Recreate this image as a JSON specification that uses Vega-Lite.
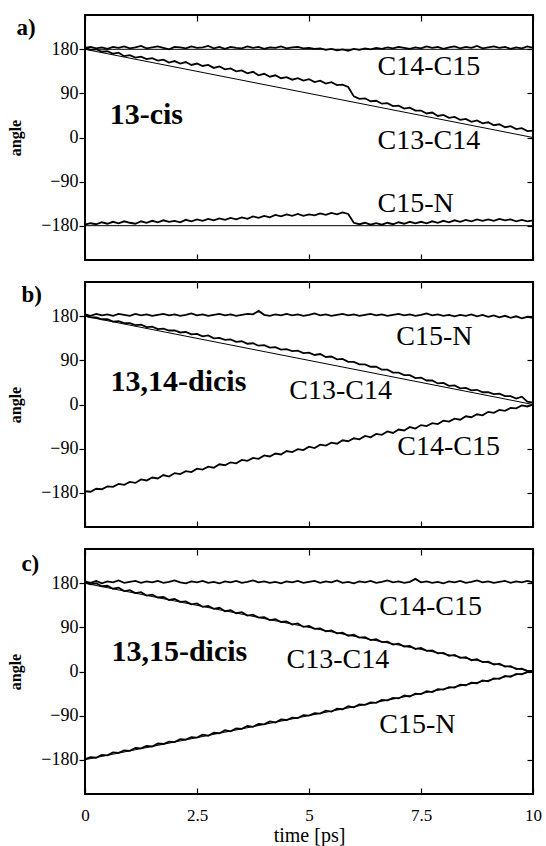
{
"$schema":"https://vega.github.io/schema/vega-lite/v6.json",
"background":"white",
"padding":{"left":6,"top":13,"right":10,"bottom":2},
"spacing":18,
"config":{"font":"'Liberation Serif', 'Times New Roman', serif","view":{"stroke":"black","strokeWidth":2},"axis":{"grid":false,"domain":false,"tickColor":"black","tickWidth":1.2,"labelColor":"black","titleColor":"black","labelFont":"'Liberation Serif', 'Times New Roman', serif","titleFont":"'Liberation Serif', 'Times New Roman', serif"}},
"datasets":{
"a":[
{"s":"C14-C15","t":0,"v":183},{"s":"C14-C15","t":0.125,"v":185},{"s":"C14-C15","t":0.25,"v":182},{"s":"C14-C15","t":0.375,"v":184},{"s":"C14-C15","t":0.5,"v":181},{"s":"C14-C15","t":0.625,"v":185},{"s":"C14-C15","t":0.75,"v":183},{"s":"C14-C15","t":0.875,"v":186},
{"s":"C14-C15","t":1,"v":182},{"s":"C14-C15","t":1.125,"v":184},{"s":"C14-C15","t":1.25,"v":187},{"s":"C14-C15","t":1.375,"v":182},{"s":"C14-C15","t":1.5,"v":184},{"s":"C14-C15","t":1.625,"v":186},{"s":"C14-C15","t":1.75,"v":183},{"s":"C14-C15","t":1.875,"v":180},
{"s":"C14-C15","t":2,"v":185},{"s":"C14-C15","t":2.125,"v":184},{"s":"C14-C15","t":2.25,"v":182},{"s":"C14-C15","t":2.375,"v":186},{"s":"C14-C15","t":2.5,"v":183},{"s":"C14-C15","t":2.625,"v":184},{"s":"C14-C15","t":2.75,"v":187},{"s":"C14-C15","t":2.875,"v":182},
{"s":"C14-C15","t":3,"v":185},{"s":"C14-C15","t":3.125,"v":181},{"s":"C14-C15","t":3.25,"v":185},{"s":"C14-C15","t":3.375,"v":183},{"s":"C14-C15","t":3.5,"v":182},{"s":"C14-C15","t":3.625,"v":186},{"s":"C14-C15","t":3.75,"v":183},{"s":"C14-C15","t":3.875,"v":185},
{"s":"C14-C15","t":4,"v":181},{"s":"C14-C15","t":4.125,"v":184},{"s":"C14-C15","t":4.25,"v":183},{"s":"C14-C15","t":4.375,"v":186},{"s":"C14-C15","t":4.5,"v":182},{"s":"C14-C15","t":4.625,"v":184},{"s":"C14-C15","t":4.75,"v":185},{"s":"C14-C15","t":4.875,"v":182},
{"s":"C14-C15","t":5,"v":183},{"s":"C14-C15","t":5.125,"v":181},{"s":"C14-C15","t":5.25,"v":182},{"s":"C14-C15","t":5.375,"v":179},{"s":"C14-C15","t":5.5,"v":181},{"s":"C14-C15","t":5.625,"v":178},{"s":"C14-C15","t":5.75,"v":180},{"s":"C14-C15","t":5.875,"v":177},
{"s":"C14-C15","t":6,"v":181},{"s":"C14-C15","t":6.125,"v":179},{"s":"C14-C15","t":6.25,"v":182},{"s":"C14-C15","t":6.375,"v":180},{"s":"C14-C15","t":6.5,"v":183},{"s":"C14-C15","t":6.625,"v":181},{"s":"C14-C15","t":6.75,"v":184},{"s":"C14-C15","t":6.875,"v":182},
{"s":"C14-C15","t":7,"v":185},{"s":"C14-C15","t":7.125,"v":183},{"s":"C14-C15","t":7.25,"v":181},{"s":"C14-C15","t":7.375,"v":184},{"s":"C14-C15","t":7.5,"v":182},{"s":"C14-C15","t":7.625,"v":186},{"s":"C14-C15","t":7.75,"v":183},{"s":"C14-C15","t":7.875,"v":185},
{"s":"C14-C15","t":8,"v":181},{"s":"C14-C15","t":8.125,"v":184},{"s":"C14-C15","t":8.25,"v":186},{"s":"C14-C15","t":8.375,"v":182},{"s":"C14-C15","t":8.5,"v":185},{"s":"C14-C15","t":8.625,"v":183},{"s":"C14-C15","t":8.75,"v":187},{"s":"C14-C15","t":8.875,"v":182},
{"s":"C14-C15","t":9,"v":184},{"s":"C14-C15","t":9.125,"v":186},{"s":"C14-C15","t":9.25,"v":183},{"s":"C14-C15","t":9.375,"v":185},{"s":"C14-C15","t":9.5,"v":181},{"s":"C14-C15","t":9.625,"v":184},{"s":"C14-C15","t":9.75,"v":182},{"s":"C14-C15","t":9.875,"v":186},
{"s":"C14-C15","t":10,"v":183},
{"s":"C13-C14","t":0,"v":183},{"s":"C13-C14","t":0.125,"v":179},{"s":"C13-C14","t":0.25,"v":180},{"s":"C13-C14","t":0.375,"v":175},{"s":"C13-C14","t":0.5,"v":176},{"s":"C13-C14","t":0.625,"v":171},{"s":"C13-C14","t":0.75,"v":173},{"s":"C13-C14","t":0.875,"v":166},
{"s":"C13-C14","t":1,"v":168},{"s":"C13-C14","t":1.125,"v":163},{"s":"C13-C14","t":1.25,"v":165},{"s":"C13-C14","t":1.375,"v":160},{"s":"C13-C14","t":1.5,"v":162},{"s":"C13-C14","t":1.625,"v":157},{"s":"C13-C14","t":1.75,"v":159},{"s":"C13-C14","t":1.875,"v":153},
{"s":"C13-C14","t":2,"v":156},{"s":"C13-C14","t":2.125,"v":151},{"s":"C13-C14","t":2.25,"v":154},{"s":"C13-C14","t":2.375,"v":148},{"s":"C13-C14","t":2.5,"v":151},{"s":"C13-C14","t":2.625,"v":146},{"s":"C13-C14","t":2.75,"v":148},{"s":"C13-C14","t":2.875,"v":142},
{"s":"C13-C14","t":3,"v":145},{"s":"C13-C14","t":3.125,"v":139},{"s":"C13-C14","t":3.25,"v":141},{"s":"C13-C14","t":3.375,"v":135},{"s":"C13-C14","t":3.5,"v":137},{"s":"C13-C14","t":3.625,"v":131},{"s":"C13-C14","t":3.75,"v":134},{"s":"C13-C14","t":3.875,"v":127},
{"s":"C13-C14","t":4,"v":130},{"s":"C13-C14","t":4.125,"v":124},{"s":"C13-C14","t":4.25,"v":127},{"s":"C13-C14","t":4.375,"v":121},{"s":"C13-C14","t":4.5,"v":123},{"s":"C13-C14","t":4.625,"v":118},{"s":"C13-C14","t":4.75,"v":121},{"s":"C13-C14","t":4.875,"v":116},
{"s":"C13-C14","t":5,"v":119},{"s":"C13-C14","t":5.125,"v":113},{"s":"C13-C14","t":5.25,"v":116},{"s":"C13-C14","t":5.375,"v":110},{"s":"C13-C14","t":5.5,"v":113},{"s":"C13-C14","t":5.625,"v":107},{"s":"C13-C14","t":5.75,"v":108},{"s":"C13-C14","t":5.875,"v":103},
{"s":"C13-C14","t":6,"v":84},{"s":"C13-C14","t":6.125,"v":79},{"s":"C13-C14","t":6.25,"v":80},{"s":"C13-C14","t":6.375,"v":74},{"s":"C13-C14","t":6.5,"v":75},{"s":"C13-C14","t":6.625,"v":69},{"s":"C13-C14","t":6.75,"v":70},{"s":"C13-C14","t":6.875,"v":64},
{"s":"C13-C14","t":7,"v":65},{"s":"C13-C14","t":7.125,"v":59},{"s":"C13-C14","t":7.25,"v":61},{"s":"C13-C14","t":7.375,"v":55},{"s":"C13-C14","t":7.5,"v":55},{"s":"C13-C14","t":7.625,"v":49},{"s":"C13-C14","t":7.75,"v":51},{"s":"C13-C14","t":7.875,"v":44},
{"s":"C13-C14","t":8,"v":46},{"s":"C13-C14","t":8.125,"v":40},{"s":"C13-C14","t":8.25,"v":42},{"s":"C13-C14","t":8.375,"v":36},{"s":"C13-C14","t":8.5,"v":38},{"s":"C13-C14","t":8.625,"v":32},{"s":"C13-C14","t":8.75,"v":35},{"s":"C13-C14","t":8.875,"v":29},
{"s":"C13-C14","t":9,"v":31},{"s":"C13-C14","t":9.125,"v":25},{"s":"C13-C14","t":9.25,"v":27},{"s":"C13-C14","t":9.375,"v":21},{"s":"C13-C14","t":9.5,"v":23},{"s":"C13-C14","t":9.625,"v":17},{"s":"C13-C14","t":9.75,"v":19},{"s":"C13-C14","t":9.875,"v":13},
{"s":"C13-C14","t":10,"v":14},
{"s":"C15-N","t":0,"v":-178},{"s":"C15-N","t":0.125,"v":-175},{"s":"C15-N","t":0.25,"v":-177},{"s":"C15-N","t":0.375,"v":-173},{"s":"C15-N","t":0.5,"v":-176},{"s":"C15-N","t":0.625,"v":-172},{"s":"C15-N","t":0.75,"v":-175},{"s":"C15-N","t":0.875,"v":-171},
{"s":"C15-N","t":1,"v":-174},{"s":"C15-N","t":1.125,"v":-176},{"s":"C15-N","t":1.25,"v":-171},{"s":"C15-N","t":1.375,"v":-174},{"s":"C15-N","t":1.5,"v":-170},{"s":"C15-N","t":1.625,"v":-173},{"s":"C15-N","t":1.75,"v":-169},{"s":"C15-N","t":1.875,"v":-172},
{"s":"C15-N","t":2,"v":-170},{"s":"C15-N","t":2.125,"v":-173},{"s":"C15-N","t":2.25,"v":-168},{"s":"C15-N","t":2.375,"v":-171},{"s":"C15-N","t":2.5,"v":-167},{"s":"C15-N","t":2.625,"v":-170},{"s":"C15-N","t":2.75,"v":-166},{"s":"C15-N","t":2.875,"v":-169},
{"s":"C15-N","t":3,"v":-165},{"s":"C15-N","t":3.125,"v":-168},{"s":"C15-N","t":3.25,"v":-164},{"s":"C15-N","t":3.375,"v":-167},{"s":"C15-N","t":3.5,"v":-163},{"s":"C15-N","t":3.625,"v":-166},{"s":"C15-N","t":3.75,"v":-161},{"s":"C15-N","t":3.875,"v":-164},
{"s":"C15-N","t":4,"v":-160},{"s":"C15-N","t":4.125,"v":-163},{"s":"C15-N","t":4.25,"v":-158},{"s":"C15-N","t":4.375,"v":-161},{"s":"C15-N","t":4.5,"v":-157},{"s":"C15-N","t":4.625,"v":-160},{"s":"C15-N","t":4.75,"v":-156},{"s":"C15-N","t":4.875,"v":-160},
{"s":"C15-N","t":5,"v":-157},{"s":"C15-N","t":5.125,"v":-159},{"s":"C15-N","t":5.25,"v":-155},{"s":"C15-N","t":5.375,"v":-158},{"s":"C15-N","t":5.5,"v":-154},{"s":"C15-N","t":5.625,"v":-157},{"s":"C15-N","t":5.75,"v":-153},{"s":"C15-N","t":5.875,"v":-156},
{"s":"C15-N","t":6,"v":-174},{"s":"C15-N","t":6.125,"v":-177},{"s":"C15-N","t":6.25,"v":-174},{"s":"C15-N","t":6.375,"v":-178},{"s":"C15-N","t":6.5,"v":-175},{"s":"C15-N","t":6.625,"v":-178},{"s":"C15-N","t":6.75,"v":-174},{"s":"C15-N","t":6.875,"v":-177},
{"s":"C15-N","t":7,"v":-173},{"s":"C15-N","t":7.125,"v":-176},{"s":"C15-N","t":7.25,"v":-172},{"s":"C15-N","t":7.375,"v":-175},{"s":"C15-N","t":7.5,"v":-172},{"s":"C15-N","t":7.625,"v":-175},{"s":"C15-N","t":7.75,"v":-171},{"s":"C15-N","t":7.875,"v":-174},
{"s":"C15-N","t":8,"v":-170},{"s":"C15-N","t":8.125,"v":-173},{"s":"C15-N","t":8.25,"v":-169},{"s":"C15-N","t":8.375,"v":-172},{"s":"C15-N","t":8.5,"v":-168},{"s":"C15-N","t":8.625,"v":-171},{"s":"C15-N","t":8.75,"v":-167},{"s":"C15-N","t":8.875,"v":-170},
{"s":"C15-N","t":9,"v":-167},{"s":"C15-N","t":9.125,"v":-170},{"s":"C15-N","t":9.25,"v":-166},{"s":"C15-N","t":9.375,"v":-169},{"s":"C15-N","t":9.5,"v":-167},{"s":"C15-N","t":9.625,"v":-171},{"s":"C15-N","t":9.75,"v":-168},{"s":"C15-N","t":9.875,"v":-171},
{"s":"C15-N","t":10,"v":-169}
],
"b":[
{"s":"C15-N","t":0,"v":184},{"s":"C15-N","t":0.125,"v":181},{"s":"C15-N","t":0.25,"v":185},{"s":"C15-N","t":0.375,"v":182},{"s":"C15-N","t":0.5,"v":184},{"s":"C15-N","t":0.625,"v":181},{"s":"C15-N","t":0.75,"v":185},{"s":"C15-N","t":0.875,"v":183},
{"s":"C15-N","t":1,"v":181},{"s":"C15-N","t":1.125,"v":185},{"s":"C15-N","t":1.25,"v":182},{"s":"C15-N","t":1.375,"v":184},{"s":"C15-N","t":1.5,"v":181},{"s":"C15-N","t":1.625,"v":183},{"s":"C15-N","t":1.75,"v":185},{"s":"C15-N","t":1.875,"v":182},
{"s":"C15-N","t":2,"v":184},{"s":"C15-N","t":2.125,"v":181},{"s":"C15-N","t":2.25,"v":183},{"s":"C15-N","t":2.375,"v":186},{"s":"C15-N","t":2.5,"v":182},{"s":"C15-N","t":2.625,"v":184},{"s":"C15-N","t":2.75,"v":181},{"s":"C15-N","t":2.875,"v":183},
{"s":"C15-N","t":3,"v":185},{"s":"C15-N","t":3.125,"v":182},{"s":"C15-N","t":3.25,"v":184},{"s":"C15-N","t":3.375,"v":181},{"s":"C15-N","t":3.5,"v":183},{"s":"C15-N","t":3.625,"v":185},{"s":"C15-N","t":3.75,"v":184},{"s":"C15-N","t":3.875,"v":191},
{"s":"C15-N","t":4,"v":183},{"s":"C15-N","t":4.125,"v":181},{"s":"C15-N","t":4.25,"v":184},{"s":"C15-N","t":4.375,"v":182},{"s":"C15-N","t":4.5,"v":185},{"s":"C15-N","t":4.625,"v":182},{"s":"C15-N","t":4.75,"v":184},{"s":"C15-N","t":4.875,"v":181},
{"s":"C15-N","t":5,"v":183},{"s":"C15-N","t":5.125,"v":186},{"s":"C15-N","t":5.25,"v":182},{"s":"C15-N","t":5.375,"v":184},{"s":"C15-N","t":5.5,"v":181},{"s":"C15-N","t":5.625,"v":183},{"s":"C15-N","t":5.75,"v":185},{"s":"C15-N","t":5.875,"v":182},
{"s":"C15-N","t":6,"v":184},{"s":"C15-N","t":6.125,"v":181},{"s":"C15-N","t":6.25,"v":183},{"s":"C15-N","t":6.375,"v":185},{"s":"C15-N","t":6.5,"v":182},{"s":"C15-N","t":6.625,"v":184},{"s":"C15-N","t":6.75,"v":181},{"s":"C15-N","t":6.875,"v":183},
{"s":"C15-N","t":7,"v":185},{"s":"C15-N","t":7.125,"v":182},{"s":"C15-N","t":7.25,"v":184},{"s":"C15-N","t":7.375,"v":181},{"s":"C15-N","t":7.5,"v":183},{"s":"C15-N","t":7.625,"v":186},{"s":"C15-N","t":7.75,"v":182},{"s":"C15-N","t":7.875,"v":184},
{"s":"C15-N","t":8,"v":181},{"s":"C15-N","t":8.125,"v":183},{"s":"C15-N","t":8.25,"v":180},{"s":"C15-N","t":8.375,"v":183},{"s":"C15-N","t":8.5,"v":181},{"s":"C15-N","t":8.625,"v":184},{"s":"C15-N","t":8.75,"v":180},{"s":"C15-N","t":8.875,"v":183},
{"s":"C15-N","t":9,"v":179},{"s":"C15-N","t":9.125,"v":182},{"s":"C15-N","t":9.25,"v":178},{"s":"C15-N","t":9.375,"v":181},{"s":"C15-N","t":9.5,"v":177},{"s":"C15-N","t":9.625,"v":180},{"s":"C15-N","t":9.75,"v":176},{"s":"C15-N","t":9.875,"v":179},
{"s":"C15-N","t":10,"v":177},
{"s":"C13-C14","t":0,"v":182},{"s":"C13-C14","t":0.125,"v":178},{"s":"C13-C14","t":0.25,"v":178},{"s":"C13-C14","t":0.375,"v":174},{"s":"C13-C14","t":0.5,"v":174},{"s":"C13-C14","t":0.625,"v":169},{"s":"C13-C14","t":0.75,"v":170},{"s":"C13-C14","t":0.875,"v":166},
{"s":"C13-C14","t":1,"v":166},{"s":"C13-C14","t":1.125,"v":162},{"s":"C13-C14","t":1.25,"v":163},{"s":"C13-C14","t":1.375,"v":158},{"s":"C13-C14","t":1.5,"v":159},{"s":"C13-C14","t":1.625,"v":154},{"s":"C13-C14","t":1.75,"v":155},{"s":"C13-C14","t":1.875,"v":151},
{"s":"C13-C14","t":2,"v":151},{"s":"C13-C14","t":2.125,"v":147},{"s":"C13-C14","t":2.25,"v":148},{"s":"C13-C14","t":2.375,"v":143},{"s":"C13-C14","t":2.5,"v":144},{"s":"C13-C14","t":2.625,"v":139},{"s":"C13-C14","t":2.75,"v":141},{"s":"C13-C14","t":2.875,"v":135},
{"s":"C13-C14","t":3,"v":136},{"s":"C13-C14","t":3.125,"v":132},{"s":"C13-C14","t":3.25,"v":133},{"s":"C13-C14","t":3.375,"v":128},{"s":"C13-C14","t":3.5,"v":129},{"s":"C13-C14","t":3.625,"v":124},{"s":"C13-C14","t":3.75,"v":125},{"s":"C13-C14","t":3.875,"v":120},
{"s":"C13-C14","t":4,"v":121},{"s":"C13-C14","t":4.125,"v":116},{"s":"C13-C14","t":4.25,"v":117},{"s":"C13-C14","t":4.375,"v":112},{"s":"C13-C14","t":4.5,"v":113},{"s":"C13-C14","t":4.625,"v":109},{"s":"C13-C14","t":4.75,"v":110},{"s":"C13-C14","t":4.875,"v":105},
{"s":"C13-C14","t":5,"v":106},{"s":"C13-C14","t":5.125,"v":101},{"s":"C13-C14","t":5.25,"v":103},{"s":"C13-C14","t":5.375,"v":97},{"s":"C13-C14","t":5.5,"v":98},{"s":"C13-C14","t":5.625,"v":92},{"s":"C13-C14","t":5.75,"v":93},{"s":"C13-C14","t":5.875,"v":87},
{"s":"C13-C14","t":6,"v":87},{"s":"C13-C14","t":6.125,"v":82},{"s":"C13-C14","t":6.25,"v":82},{"s":"C13-C14","t":6.375,"v":77},{"s":"C13-C14","t":6.5,"v":77},{"s":"C13-C14","t":6.625,"v":71},{"s":"C13-C14","t":6.75,"v":71},{"s":"C13-C14","t":6.875,"v":65},
{"s":"C13-C14","t":7,"v":65},{"s":"C13-C14","t":7.125,"v":60},{"s":"C13-C14","t":7.25,"v":60},{"s":"C13-C14","t":7.375,"v":54},{"s":"C13-C14","t":7.5,"v":55},{"s":"C13-C14","t":7.625,"v":49},{"s":"C13-C14","t":7.75,"v":49},{"s":"C13-C14","t":7.875,"v":43},
{"s":"C13-C14","t":8,"v":44},{"s":"C13-C14","t":8.125,"v":38},{"s":"C13-C14","t":8.25,"v":39},{"s":"C13-C14","t":8.375,"v":33},{"s":"C13-C14","t":8.5,"v":34},{"s":"C13-C14","t":8.625,"v":29},{"s":"C13-C14","t":8.75,"v":30},{"s":"C13-C14","t":8.875,"v":25},
{"s":"C13-C14","t":9,"v":25},{"s":"C13-C14","t":9.125,"v":21},{"s":"C13-C14","t":9.25,"v":22},{"s":"C13-C14","t":9.375,"v":17},{"s":"C13-C14","t":9.5,"v":17},{"s":"C13-C14","t":9.625,"v":12},{"s":"C13-C14","t":9.75,"v":16},{"s":"C13-C14","t":9.875,"v":6},
{"s":"C13-C14","t":10,"v":4},
{"s":"C14-C15","t":0,"v":-177},{"s":"C14-C15","t":0.125,"v":-178},{"s":"C14-C15","t":0.25,"v":-172},{"s":"C14-C15","t":0.375,"v":-173},{"s":"C14-C15","t":0.5,"v":-167},{"s":"C14-C15","t":0.625,"v":-168},{"s":"C14-C15","t":0.75,"v":-162},{"s":"C14-C15","t":0.875,"v":-164},
{"s":"C14-C15","t":1,"v":-158},{"s":"C14-C15","t":1.125,"v":-160},{"s":"C14-C15","t":1.25,"v":-153},{"s":"C14-C15","t":1.375,"v":-155},{"s":"C14-C15","t":1.5,"v":-149},{"s":"C14-C15","t":1.625,"v":-151},{"s":"C14-C15","t":1.75,"v":-144},{"s":"C14-C15","t":1.875,"v":-147},
{"s":"C14-C15","t":2,"v":-140},{"s":"C14-C15","t":2.125,"v":-142},{"s":"C14-C15","t":2.25,"v":-136},{"s":"C14-C15","t":2.375,"v":-138},{"s":"C14-C15","t":2.5,"v":-131},{"s":"C14-C15","t":2.625,"v":-133},{"s":"C14-C15","t":2.75,"v":-127},{"s":"C14-C15","t":2.875,"v":-129},
{"s":"C14-C15","t":3,"v":-122},{"s":"C14-C15","t":3.125,"v":-124},{"s":"C14-C15","t":3.25,"v":-118},{"s":"C14-C15","t":3.375,"v":-120},{"s":"C14-C15","t":3.5,"v":-113},{"s":"C14-C15","t":3.625,"v":-115},{"s":"C14-C15","t":3.75,"v":-109},{"s":"C14-C15","t":3.875,"v":-111},
{"s":"C14-C15","t":4,"v":-104},{"s":"C14-C15","t":4.125,"v":-106},{"s":"C14-C15","t":4.25,"v":-100},{"s":"C14-C15","t":4.375,"v":-102},{"s":"C14-C15","t":4.5,"v":-95},{"s":"C14-C15","t":4.625,"v":-97},{"s":"C14-C15","t":4.75,"v":-91},{"s":"C14-C15","t":4.875,"v":-93},
{"s":"C14-C15","t":5,"v":-86},{"s":"C14-C15","t":5.125,"v":-89},{"s":"C14-C15","t":5.25,"v":-82},{"s":"C14-C15","t":5.375,"v":-84},{"s":"C14-C15","t":5.5,"v":-78},{"s":"C14-C15","t":5.625,"v":-80},{"s":"C14-C15","t":5.75,"v":-73},{"s":"C14-C15","t":5.875,"v":-75},
{"s":"C14-C15","t":6,"v":-69},{"s":"C14-C15","t":6.125,"v":-71},{"s":"C14-C15","t":6.25,"v":-64},{"s":"C14-C15","t":6.375,"v":-67},{"s":"C14-C15","t":6.5,"v":-60},{"s":"C14-C15","t":6.625,"v":-62},{"s":"C14-C15","t":6.75,"v":-55},{"s":"C14-C15","t":6.875,"v":-58},
{"s":"C14-C15","t":7,"v":-51},{"s":"C14-C15","t":7.125,"v":-53},{"s":"C14-C15","t":7.25,"v":-46},{"s":"C14-C15","t":7.375,"v":-49},{"s":"C14-C15","t":7.5,"v":-42},{"s":"C14-C15","t":7.625,"v":-44},{"s":"C14-C15","t":7.75,"v":-38},{"s":"C14-C15","t":7.875,"v":-40},
{"s":"C14-C15","t":8,"v":-33},{"s":"C14-C15","t":8.125,"v":-35},{"s":"C14-C15","t":8.25,"v":-29},{"s":"C14-C15","t":8.375,"v":-31},{"s":"C14-C15","t":8.5,"v":-24},{"s":"C14-C15","t":8.625,"v":-26},{"s":"C14-C15","t":8.75,"v":-20},{"s":"C14-C15","t":8.875,"v":-22},
{"s":"C14-C15","t":9,"v":-15},{"s":"C14-C15","t":9.125,"v":-17},{"s":"C14-C15","t":9.25,"v":-11},{"s":"C14-C15","t":9.375,"v":-13},{"s":"C14-C15","t":9.5,"v":-7},{"s":"C14-C15","t":9.625,"v":-8},{"s":"C14-C15","t":9.75,"v":-2},{"s":"C14-C15","t":9.875,"v":-4},
{"s":"C14-C15","t":10,"v":0}
],
"c":[
{"s":"C14-C15","t":0,"v":184},{"s":"C14-C15","t":0.125,"v":181},{"s":"C14-C15","t":0.25,"v":185},{"s":"C14-C15","t":0.375,"v":180},{"s":"C14-C15","t":0.5,"v":184},{"s":"C14-C15","t":0.625,"v":182},{"s":"C14-C15","t":0.75,"v":186},{"s":"C14-C15","t":0.875,"v":181},
{"s":"C14-C15","t":1,"v":183},{"s":"C14-C15","t":1.125,"v":185},{"s":"C14-C15","t":1.25,"v":181},{"s":"C14-C15","t":1.375,"v":184},{"s":"C14-C15","t":1.5,"v":182},{"s":"C14-C15","t":1.625,"v":185},{"s":"C14-C15","t":1.75,"v":181},{"s":"C14-C15","t":1.875,"v":183},
{"s":"C14-C15","t":2,"v":186},{"s":"C14-C15","t":2.125,"v":182},{"s":"C14-C15","t":2.25,"v":180},{"s":"C14-C15","t":2.375,"v":184},{"s":"C14-C15","t":2.5,"v":182},{"s":"C14-C15","t":2.625,"v":185},{"s":"C14-C15","t":2.75,"v":181},{"s":"C14-C15","t":2.875,"v":183},
{"s":"C14-C15","t":3,"v":180},{"s":"C14-C15","t":3.125,"v":184},{"s":"C14-C15","t":3.25,"v":182},{"s":"C14-C15","t":3.375,"v":185},{"s":"C14-C15","t":3.5,"v":181},{"s":"C14-C15","t":3.625,"v":183},{"s":"C14-C15","t":3.75,"v":186},{"s":"C14-C15","t":3.875,"v":182},
{"s":"C14-C15","t":4,"v":184},{"s":"C14-C15","t":4.125,"v":181},{"s":"C14-C15","t":4.25,"v":183},{"s":"C14-C15","t":4.375,"v":180},{"s":"C14-C15","t":4.5,"v":184},{"s":"C14-C15","t":4.625,"v":182},{"s":"C14-C15","t":4.75,"v":185},{"s":"C14-C15","t":4.875,"v":181},
{"s":"C14-C15","t":5,"v":183},{"s":"C14-C15","t":5.125,"v":185},{"s":"C14-C15","t":5.25,"v":181},{"s":"C14-C15","t":5.375,"v":184},{"s":"C14-C15","t":5.5,"v":182},{"s":"C14-C15","t":5.625,"v":186},{"s":"C14-C15","t":5.75,"v":181},{"s":"C14-C15","t":5.875,"v":183},
{"s":"C14-C15","t":6,"v":180},{"s":"C14-C15","t":6.125,"v":184},{"s":"C14-C15","t":6.25,"v":182},{"s":"C14-C15","t":6.375,"v":185},{"s":"C14-C15","t":6.5,"v":181},{"s":"C14-C15","t":6.625,"v":183},{"s":"C14-C15","t":6.75,"v":186},{"s":"C14-C15","t":6.875,"v":182},
{"s":"C14-C15","t":7,"v":184},{"s":"C14-C15","t":7.125,"v":181},{"s":"C14-C15","t":7.25,"v":183},{"s":"C14-C15","t":7.375,"v":189},{"s":"C14-C15","t":7.5,"v":182},{"s":"C14-C15","t":7.625,"v":184},{"s":"C14-C15","t":7.75,"v":181},{"s":"C14-C15","t":7.875,"v":183},
{"s":"C14-C15","t":8,"v":180},{"s":"C14-C15","t":8.125,"v":184},{"s":"C14-C15","t":8.25,"v":182},{"s":"C14-C15","t":8.375,"v":185},{"s":"C14-C15","t":8.5,"v":181},{"s":"C14-C15","t":8.625,"v":183},{"s":"C14-C15","t":8.75,"v":186},{"s":"C14-C15","t":8.875,"v":182},
{"s":"C14-C15","t":9,"v":184},{"s":"C14-C15","t":9.125,"v":181},{"s":"C14-C15","t":9.25,"v":183},{"s":"C14-C15","t":9.375,"v":185},{"s":"C14-C15","t":9.5,"v":181},{"s":"C14-C15","t":9.625,"v":184},{"s":"C14-C15","t":9.75,"v":182},{"s":"C14-C15","t":9.875,"v":185},
{"s":"C14-C15","t":10,"v":182},
{"s":"C13-C14","t":0,"v":183},{"s":"C13-C14","t":0.125,"v":178},{"s":"C13-C14","t":0.25,"v":180},{"s":"C13-C14","t":0.375,"v":174},{"s":"C13-C14","t":0.5,"v":175},{"s":"C13-C14","t":0.625,"v":169},{"s":"C13-C14","t":0.75,"v":171},{"s":"C13-C14","t":0.875,"v":164},
{"s":"C13-C14","t":1,"v":166},{"s":"C13-C14","t":1.125,"v":160},{"s":"C13-C14","t":1.25,"v":162},{"s":"C13-C14","t":1.375,"v":155},{"s":"C13-C14","t":1.5,"v":157},{"s":"C13-C14","t":1.625,"v":151},{"s":"C13-C14","t":1.75,"v":152},{"s":"C13-C14","t":1.875,"v":146},
{"s":"C13-C14","t":2,"v":148},{"s":"C13-C14","t":2.125,"v":142},{"s":"C13-C14","t":2.25,"v":143},{"s":"C13-C14","t":2.375,"v":137},{"s":"C13-C14","t":2.5,"v":139},{"s":"C13-C14","t":2.625,"v":132},{"s":"C13-C14","t":2.75,"v":134},{"s":"C13-C14","t":2.875,"v":128},
{"s":"C13-C14","t":3,"v":130},{"s":"C13-C14","t":3.125,"v":123},{"s":"C13-C14","t":3.25,"v":125},{"s":"C13-C14","t":3.375,"v":119},{"s":"C13-C14","t":3.5,"v":121},{"s":"C13-C14","t":3.625,"v":114},{"s":"C13-C14","t":3.75,"v":116},{"s":"C13-C14","t":3.875,"v":110},
{"s":"C13-C14","t":4,"v":111},{"s":"C13-C14","t":4.125,"v":105},{"s":"C13-C14","t":4.25,"v":107},{"s":"C13-C14","t":4.375,"v":101},{"s":"C13-C14","t":4.5,"v":102},{"s":"C13-C14","t":4.625,"v":96},{"s":"C13-C14","t":4.75,"v":98},{"s":"C13-C14","t":4.875,"v":91},
{"s":"C13-C14","t":5,"v":93},{"s":"C13-C14","t":5.125,"v":87},{"s":"C13-C14","t":5.25,"v":88},{"s":"C13-C14","t":5.375,"v":82},{"s":"C13-C14","t":5.5,"v":84},{"s":"C13-C14","t":5.625,"v":78},{"s":"C13-C14","t":5.75,"v":79},{"s":"C13-C14","t":5.875,"v":73},
{"s":"C13-C14","t":6,"v":75},{"s":"C13-C14","t":6.125,"v":69},{"s":"C13-C14","t":6.25,"v":70},{"s":"C13-C14","t":6.375,"v":64},{"s":"C13-C14","t":6.5,"v":66},{"s":"C13-C14","t":6.625,"v":60},{"s":"C13-C14","t":6.75,"v":61},{"s":"C13-C14","t":6.875,"v":55},
{"s":"C13-C14","t":7,"v":57},{"s":"C13-C14","t":7.125,"v":51},{"s":"C13-C14","t":7.25,"v":52},{"s":"C13-C14","t":7.375,"v":46},{"s":"C13-C14","t":7.5,"v":48},{"s":"C13-C14","t":7.625,"v":42},{"s":"C13-C14","t":7.75,"v":43},{"s":"C13-C14","t":7.875,"v":37},
{"s":"C13-C14","t":8,"v":38},{"s":"C13-C14","t":8.125,"v":32},{"s":"C13-C14","t":8.25,"v":34},{"s":"C13-C14","t":8.375,"v":28},{"s":"C13-C14","t":8.5,"v":29},{"s":"C13-C14","t":8.625,"v":23},{"s":"C13-C14","t":8.75,"v":25},{"s":"C13-C14","t":8.875,"v":19},
{"s":"C13-C14","t":9,"v":20},{"s":"C13-C14","t":9.125,"v":14},{"s":"C13-C14","t":9.25,"v":16},{"s":"C13-C14","t":9.375,"v":10},{"s":"C13-C14","t":9.5,"v":11},{"s":"C13-C14","t":9.625,"v":5},{"s":"C13-C14","t":9.75,"v":6},{"s":"C13-C14","t":9.875,"v":1},
{"s":"C13-C14","t":10,"v":1},
{"s":"C15-N","t":0,"v":-179},{"s":"C15-N","t":0.125,"v":-175},{"s":"C15-N","t":0.25,"v":-176},{"s":"C15-N","t":0.375,"v":-170},{"s":"C15-N","t":0.5,"v":-171},{"s":"C15-N","t":0.625,"v":-165},{"s":"C15-N","t":0.75,"v":-166},{"s":"C15-N","t":0.875,"v":-161},
{"s":"C15-N","t":1,"v":-162},{"s":"C15-N","t":1.125,"v":-156},{"s":"C15-N","t":1.25,"v":-157},{"s":"C15-N","t":1.375,"v":-152},{"s":"C15-N","t":1.5,"v":-153},{"s":"C15-N","t":1.625,"v":-147},{"s":"C15-N","t":1.75,"v":-148},{"s":"C15-N","t":1.875,"v":-143},
{"s":"C15-N","t":2,"v":-144},{"s":"C15-N","t":2.125,"v":-138},{"s":"C15-N","t":2.25,"v":-139},{"s":"C15-N","t":2.375,"v":-134},{"s":"C15-N","t":2.5,"v":-135},{"s":"C15-N","t":2.625,"v":-129},{"s":"C15-N","t":2.75,"v":-131},{"s":"C15-N","t":2.875,"v":-125},
{"s":"C15-N","t":3,"v":-126},{"s":"C15-N","t":3.125,"v":-120},{"s":"C15-N","t":3.25,"v":-122},{"s":"C15-N","t":3.375,"v":-116},{"s":"C15-N","t":3.5,"v":-117},{"s":"C15-N","t":3.625,"v":-111},{"s":"C15-N","t":3.75,"v":-113},{"s":"C15-N","t":3.875,"v":-107},
{"s":"C15-N","t":4,"v":-108},{"s":"C15-N","t":4.125,"v":-102},{"s":"C15-N","t":4.25,"v":-104},{"s":"C15-N","t":4.375,"v":-98},{"s":"C15-N","t":4.5,"v":-99},{"s":"C15-N","t":4.625,"v":-94},{"s":"C15-N","t":4.75,"v":-95},{"s":"C15-N","t":4.875,"v":-89},
{"s":"C15-N","t":5,"v":-90},{"s":"C15-N","t":5.125,"v":-85},{"s":"C15-N","t":5.25,"v":-86},{"s":"C15-N","t":5.375,"v":-80},{"s":"C15-N","t":5.5,"v":-82},{"s":"C15-N","t":5.625,"v":-76},{"s":"C15-N","t":5.75,"v":-77},{"s":"C15-N","t":5.875,"v":-71},
{"s":"C15-N","t":6,"v":-73},{"s":"C15-N","t":6.125,"v":-67},{"s":"C15-N","t":6.25,"v":-68},{"s":"C15-N","t":6.375,"v":-63},{"s":"C15-N","t":6.5,"v":-64},{"s":"C15-N","t":6.625,"v":-58},{"s":"C15-N","t":6.75,"v":-59},{"s":"C15-N","t":6.875,"v":-54},
{"s":"C15-N","t":7,"v":-55},{"s":"C15-N","t":7.125,"v":-49},{"s":"C15-N","t":7.25,"v":-51},{"s":"C15-N","t":7.375,"v":-45},{"s":"C15-N","t":7.5,"v":-46},{"s":"C15-N","t":7.625,"v":-40},{"s":"C15-N","t":7.75,"v":-42},{"s":"C15-N","t":7.875,"v":-36},
{"s":"C15-N","t":8,"v":-37},{"s":"C15-N","t":8.125,"v":-32},{"s":"C15-N","t":8.25,"v":-33},{"s":"C15-N","t":8.375,"v":-27},{"s":"C15-N","t":8.5,"v":-28},{"s":"C15-N","t":8.625,"v":-23},{"s":"C15-N","t":8.75,"v":-24},{"s":"C15-N","t":8.875,"v":-18},
{"s":"C15-N","t":9,"v":-20},{"s":"C15-N","t":9.125,"v":-14},{"s":"C15-N","t":9.25,"v":-15},{"s":"C15-N","t":9.375,"v":-9},{"s":"C15-N","t":9.5,"v":-11},{"s":"C15-N","t":9.625,"v":-5},{"s":"C15-N","t":9.75,"v":-6},{"s":"C15-N","t":9.875,"v":-1},
{"s":"C15-N","t":10,"v":0}
],
"refs":[
{"p":"a","s":"r180","t":0,"v":180},{"p":"a","s":"r180","t":10,"v":180},
{"p":"a","s":"rm180","t":0,"v":-180},{"p":"a","s":"rm180","t":10,"v":-180},
{"p":"a","s":"rlin","t":0,"v":180},{"p":"a","s":"rlin","t":10,"v":0},
{"p":"b","s":"rlin","t":0,"v":180},{"p":"b","s":"rlin","t":10,"v":0},
{"p":"c","s":"rlin","t":0,"v":180},{"p":"c","s":"rlin","t":10,"v":0},
{"p":"c","s":"rlin2","t":0,"v":-180},{"p":"c","s":"rlin2","t":10,"v":0}
],
"notes":[
{"p":"a","k":"panel","label":"a)","t":-1.53,"v":210},
{"p":"a","k":"isomer","label":"13-cis","t":0.55,"v":27},
{"p":"a","k":"bond","label":"C14-C15","t":6.53,"v":127},
{"p":"a","k":"bond","label":"C13-C14","t":6.53,"v":-24},
{"p":"a","k":"bond","label":"C15-N","t":6.53,"v":-153},
{"p":"b","k":"panel","label":"b)","t":-1.42,"v":210},
{"p":"b","k":"isomer","label":"13,14-dicis","t":0.57,"v":28},
{"p":"b","k":"bond","label":"C15-N","t":6.95,"v":121},
{"p":"b","k":"bond","label":"C13-C14","t":4.56,"v":12},
{"p":"b","k":"bond","label":"C14-C15","t":6.97,"v":-104},
{"p":"c","k":"panel","label":"c)","t":-1.42,"v":205},
{"p":"c","k":"isomer","label":"13,15-dicis","t":0.59,"v":22},
{"p":"c","k":"bond","label":"C14-C15","t":6.57,"v":115},
{"p":"c","k":"bond","label":"C13-C14","t":4.5,"v":8},
{"p":"c","k":"bond","label":"C15-N","t":6.57,"v":-126}
]
},
"vconcat":[
{"width":448,"height":245,
"layer":[
{"data":{"name":"a"},"mark":{"type":"line","color":"black","strokeWidth":1.8},
"encoding":{"x":{"field":"t","type":"quantitative","scale":{"domain":[0,10],"nice":false,"zero":false},"axis":{"orient":"bottom","values":[0,2.5,5,7.5,10],"labels":false,"tickSize":-6,"title":null}},
"y":{"field":"v","type":"quantitative","scale":{"domain":[-250,250],"nice":false,"zero":false},"axis":{"orient":"left","values":[-180,-90,0,90,180],"tickSize":6,"labelPadding":1,"labelFontSize":18,"title":"angle","titleFontSize":16,"titleFontWeight":"bold","titlePadding":17}},
"detail":{"field":"s"}}},
{"data":{"name":"refs"},"transform":[{"filter":"datum.p=='a'"}],"mark":{"type":"line","color":"black","strokeWidth":1},
"encoding":{"x":{"field":"t","type":"quantitative","axis":{"orient":"top","values":[0,2.5,5,7.5,10],"labels":false,"tickSize":-6,"title":null}},
"y":{"field":"v","type":"quantitative","axis":{"orient":"right","values":[-180,-90,0,90,180],"labels":false,"tickSize":-6,"title":null}},
"detail":{"field":"s"}}},
{"data":{"name":"notes"},"transform":[{"filter":"datum.p=='a' && datum.k=='bond'"}],"mark":{"type":"text","align":"left","baseline":"alphabetic","fontSize":28,"color":"black"},
"encoding":{"x":{"field":"t","type":"quantitative","axis":null},"y":{"field":"v","type":"quantitative","axis":null},"text":{"field":"label"}}},
{"data":{"name":"notes"},"transform":[{"filter":"datum.p=='a' && datum.k=='isomer'"}],"mark":{"type":"text","align":"left","baseline":"alphabetic","fontSize":30,"fontWeight":"bold","color":"black"},
"encoding":{"x":{"field":"t","type":"quantitative","axis":null},"y":{"field":"v","type":"quantitative","axis":null},"text":{"field":"label"}}},
{"data":{"name":"notes"},"transform":[{"filter":"datum.p=='a' && datum.k=='panel'"}],"mark":{"type":"text","align":"left","baseline":"alphabetic","fontSize":23,"fontWeight":"bold","color":"black"},
"encoding":{"x":{"field":"t","type":"quantitative","axis":null},"y":{"field":"v","type":"quantitative","axis":null},"text":{"field":"label"}}}
],
"resolve":{"axis":{"x":"independent","y":"independent"}}},
{"width":448,"height":245,
"layer":[
{"data":{"name":"b"},"mark":{"type":"line","color":"black","strokeWidth":1.8},
"encoding":{"x":{"field":"t","type":"quantitative","scale":{"domain":[0,10],"nice":false,"zero":false},"axis":{"orient":"bottom","values":[0,2.5,5,7.5,10],"labels":false,"tickSize":-6,"title":null}},
"y":{"field":"v","type":"quantitative","scale":{"domain":[-250,250],"nice":false,"zero":false},"axis":{"orient":"left","values":[-180,-90,0,90,180],"tickSize":6,"labelPadding":1,"labelFontSize":18,"title":"angle","titleFontSize":16,"titleFontWeight":"bold","titlePadding":17}},
"detail":{"field":"s"}}},
{"data":{"name":"refs"},"transform":[{"filter":"datum.p=='b'"}],"mark":{"type":"line","color":"black","strokeWidth":1},
"encoding":{"x":{"field":"t","type":"quantitative","axis":{"orient":"top","values":[0,2.5,5,7.5,10],"labels":false,"tickSize":-6,"title":null}},
"y":{"field":"v","type":"quantitative","axis":{"orient":"right","values":[-180,-90,0,90,180],"labels":false,"tickSize":-6,"title":null}},
"detail":{"field":"s"}}},
{"data":{"name":"notes"},"transform":[{"filter":"datum.p=='b' && datum.k=='bond'"}],"mark":{"type":"text","align":"left","baseline":"alphabetic","fontSize":28,"color":"black"},
"encoding":{"x":{"field":"t","type":"quantitative","axis":null},"y":{"field":"v","type":"quantitative","axis":null},"text":{"field":"label"}}},
{"data":{"name":"notes"},"transform":[{"filter":"datum.p=='b' && datum.k=='isomer'"}],"mark":{"type":"text","align":"left","baseline":"alphabetic","fontSize":30,"fontWeight":"bold","color":"black"},
"encoding":{"x":{"field":"t","type":"quantitative","axis":null},"y":{"field":"v","type":"quantitative","axis":null},"text":{"field":"label"}}},
{"data":{"name":"notes"},"transform":[{"filter":"datum.p=='b' && datum.k=='panel'"}],"mark":{"type":"text","align":"left","baseline":"alphabetic","fontSize":23,"fontWeight":"bold","color":"black"},
"encoding":{"x":{"field":"t","type":"quantitative","axis":null},"y":{"field":"v","type":"quantitative","axis":null},"text":{"field":"label"}}}
],
"resolve":{"axis":{"x":"independent","y":"independent"}}},
{"width":448,"height":245,
"layer":[
{"data":{"name":"c"},"mark":{"type":"line","color":"black","strokeWidth":1.8},
"encoding":{"x":{"field":"t","type":"quantitative","scale":{"domain":[0,10],"nice":false,"zero":false},"axis":{"orient":"bottom","values":[0,2.5,5,7.5,10],"labelExpr":"datum.value","labelFlush":false,"labelOverlap":false,"labelFontSize":17,"tickSize":-6,"labelPadding":19,"title":"time [ps]","titleFontSize":20,"titleFontWeight":"normal","titlePadding":2}},
"y":{"field":"v","type":"quantitative","scale":{"domain":[-250,250],"nice":false,"zero":false},"axis":{"orient":"left","values":[-180,-90,0,90,180],"tickSize":6,"labelPadding":1,"labelFontSize":18,"title":"angle","titleFontSize":16,"titleFontWeight":"bold","titlePadding":17}},
"detail":{"field":"s"}}},
{"data":{"name":"refs"},"transform":[{"filter":"datum.p=='c'"}],"mark":{"type":"line","color":"black","strokeWidth":1},
"encoding":{"x":{"field":"t","type":"quantitative","axis":{"orient":"top","values":[0,2.5,5,7.5,10],"labels":false,"tickSize":-6,"title":null}},
"y":{"field":"v","type":"quantitative","axis":{"orient":"right","values":[-180,-90,0,90,180],"labels":false,"tickSize":-6,"title":null}},
"detail":{"field":"s"}}},
{"data":{"name":"notes"},"transform":[{"filter":"datum.p=='c' && datum.k=='bond'"}],"mark":{"type":"text","align":"left","baseline":"alphabetic","fontSize":28,"color":"black"},
"encoding":{"x":{"field":"t","type":"quantitative","axis":null},"y":{"field":"v","type":"quantitative","axis":null},"text":{"field":"label"}}},
{"data":{"name":"notes"},"transform":[{"filter":"datum.p=='c' && datum.k=='isomer'"}],"mark":{"type":"text","align":"left","baseline":"alphabetic","fontSize":30,"fontWeight":"bold","color":"black"},
"encoding":{"x":{"field":"t","type":"quantitative","axis":null},"y":{"field":"v","type":"quantitative","axis":null},"text":{"field":"label"}}},
{"data":{"name":"notes"},"transform":[{"filter":"datum.p=='c' && datum.k=='panel'"}],"mark":{"type":"text","align":"left","baseline":"alphabetic","fontSize":23,"fontWeight":"bold","color":"black"},
"encoding":{"x":{"field":"t","type":"quantitative","axis":null},"y":{"field":"v","type":"quantitative","axis":null},"text":{"field":"label"}}}
],
"resolve":{"axis":{"x":"independent","y":"independent"}}}
]
}
